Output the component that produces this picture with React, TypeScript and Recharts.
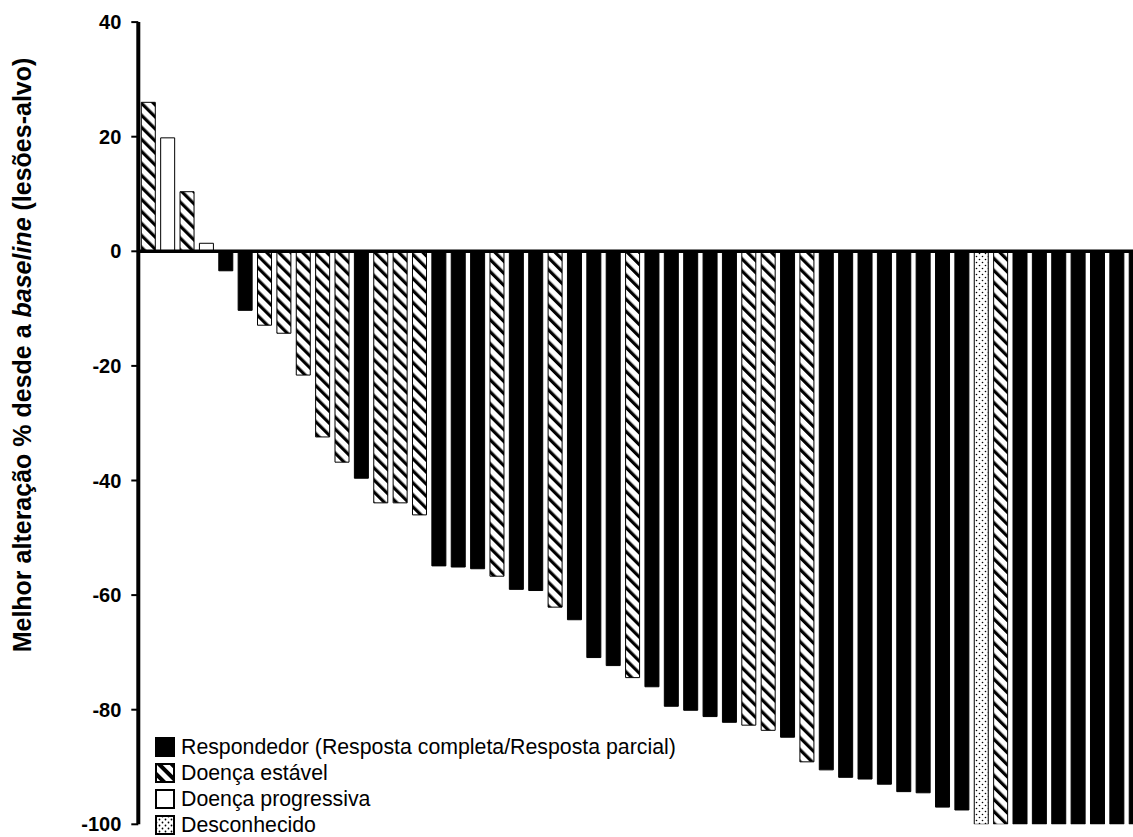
import React from 'react';
import { BarChart, Bar, XAxis, YAxis, Cell, ReferenceLine, Legend } from 'recharts';

const PATIENTS = [
  'P01','P02','P03','P04','P05','P06','P07','P08','P09','P10',
  'P11','P12','P13','P14','P15','P16','P17','P18','P19','P20',
  'P21','P22','P23','P24','P25','P26','P27','P28','P29','P30',
  'P31','P32','P33','P34','P35','P36','P37','P38','P39','P40',
  'P41','P42','P43','P44','P45','P46','P47','P48','P49','P50',
  'P51','P52',
];

const BEST_CHANGE = [
  26.0, 19.8, 10.4, 1.4, -3.4, -10.3, -12.9, -14.3, -21.6, -32.4,
  -36.8, -39.6, -43.9, -43.9, -46.0, -54.9, -55.1, -55.4, -56.7, -59.0,
  -59.2, -62.1, -64.3, -70.9, -72.3, -74.4, -76.0, -79.4, -80.1, -81.2,
  -82.2, -82.7, -83.6, -84.8, -89.1, -90.5, -91.8, -92.1, -93.0, -94.3,
  -94.5, -97.0, -97.5, -100, -100, -100, -100, -100, -100, -100,
  -100, -100,
];

// R = respondedor, SD = doença estável, PD = doença progressiva, U = desconhecido
const RESPONSE = [
  'SD','PD','SD','PD','R','R','SD','SD','SD','SD',
  'SD','R','SD','SD','SD','R','R','R','SD','R',
  'R','SD','R','R','R','SD','R','R','R','R',
  'R','SD','SD','R','SD','R','R','R','R','R',
  'R','R','R','U','SD','R','R','R','R','R',
  'R','R',
];

const Y_TICKS = [-100, -80, -60, -40, -20, 0, 20, 40];

const LEGEND_KEYS = ['R', 'SD', 'PD', 'U'];
const LEGEND_LABELS = [
  'Respondedor (Resposta completa/Resposta parcial)',
  'Doença estável',
  'Doença progressiva',
  'Desconhecido',
];

const FILLS: Record<string, string> = {
  R: '#000000',
  SD: 'url(#stripes)',
  PD: '#ffffff',
  U: 'url(#dots)',
};

const FONT = 'Arial, "Liberation Sans", sans-serif';

const data = PATIENTS.map((p, i) => ({ patient: p, value: BEST_CHANGE[i], type: RESPONSE[i] }));

const Swatch = ({ type }: { type: string }) => (
  <svg width={20} height={20} style={{ display: 'block' }}>
    <defs>
      <pattern id={'lg-stripes'} patternUnits="userSpaceOnUse" width={9} height={9} patternTransform="rotate(-45)">
        <rect x={0} y={0} width={9} height={9} fill="#fff" />
        <rect x={0} y={0} width={4} height={9} fill="#000" />
      </pattern>
      <pattern id={'lg-dots'} patternUnits="userSpaceOnUse" width={6} height={6}>
        <rect x={0} y={0} width={6} height={6} fill="#fff" />
        <circle cx={1.5} cy={1.5} r={0.9} fill="#000" />
        <circle cx={4.5} cy={4.5} r={0.9} fill="#000" />
      </pattern>
    </defs>
    <rect
      x={1}
      y={1}
      width={18}
      height={18}
      stroke="#000"
      strokeWidth={2}
      fill={type === 'SD' ? 'url(#lg-stripes)' : type === 'U' ? 'url(#lg-dots)' : FILLS[type]}
    />
  </svg>
);

const renderLegend = () => (
  <div style={{ fontFamily: FONT, fontSize: 21.3, color: '#000' }}>
    {LEGEND_KEYS.map((k, i) => (
      <div key={k} style={{ display: 'flex', alignItems: 'center', height: 26 }}>
        <Swatch type={k} />
        <span style={{ marginLeft: 6, whiteSpace: 'nowrap' }}>{LEGEND_LABELS[i]}</span>
      </div>
    ))}
  </div>
);

const renderYLabel = () => (
  <text
    transform="translate(22, 355) rotate(-90)"
    textAnchor="middle"
    dominantBaseline="central"
    fontFamily={FONT}
    fontWeight="bold"
    fontSize={25}
    fill="#000"
  >
    Melhor alteração % desde a <tspan fontStyle="italic">baseline</tspan> (lesões-alvo)
  </text>
);

export default function App() {
  return (
    <div style={{ width: 1133, height: 837, overflow: 'hidden', position: 'relative', background: '#fff' }}>
      <style>{'body{margin:0;overflow:hidden;}'}</style>
      <BarChart
        width={1160}
        height={837}
        data={data}
        margin={{ top: 22.1, right: 14.4, bottom: 12.7, left: 38.3 }}
        barSize={14}
      >
        <defs>
          <pattern id="stripes" patternUnits="userSpaceOnUse" width={8.5} height={8.5} patternTransform="rotate(-45)">
            <rect x={0} y={0} width={8.5} height={8.5} fill="#fff" />
            <rect x={0} y={0} width={3.2} height={8.5} fill="#000" />
          </pattern>
          <pattern id="dots" patternUnits="userSpaceOnUse" width={6} height={6}>
            <rect x={0} y={0} width={6} height={6} fill="#fff" />
            <circle cx={1.5} cy={1.5} r={0.8} fill="#000" />
            <circle cx={4.5} cy={4.5} r={0.8} fill="#000" />
          </pattern>
        </defs>
        <XAxis dataKey="patient" hide />
        <YAxis
          width={100}
          domain={[-100, 40]}
          ticks={Y_TICKS}
          interval={0}
          allowDataOverflow
          axisLine={{ stroke: '#000', strokeWidth: 4 }}
          tickLine={{ stroke: '#000', strokeWidth: 2 }}
          tickSize={7}
          tickMargin={10}
          tick={{ fill: '#000', fontSize: 20, fontWeight: 'bold', fontFamily: FONT }}
          label={{ content: renderYLabel }}
        />
        <Bar dataKey="value" stroke="#000" strokeWidth={1} isAnimationActive={false}>
          {data.map((d) => (
            <Cell key={d.patient} fill={FILLS[d.type]} />
          ))}
        </Bar>
        <ReferenceLine y={0} stroke="#000" strokeWidth={3.5} />
        <Legend
          layout="vertical"
          align="center"
          verticalAlign="middle"
          content={renderLegend}
          wrapperStyle={{ left: 155, top: 734, width: 640 }}
        />
      </BarChart>
    </div>
  );
}
